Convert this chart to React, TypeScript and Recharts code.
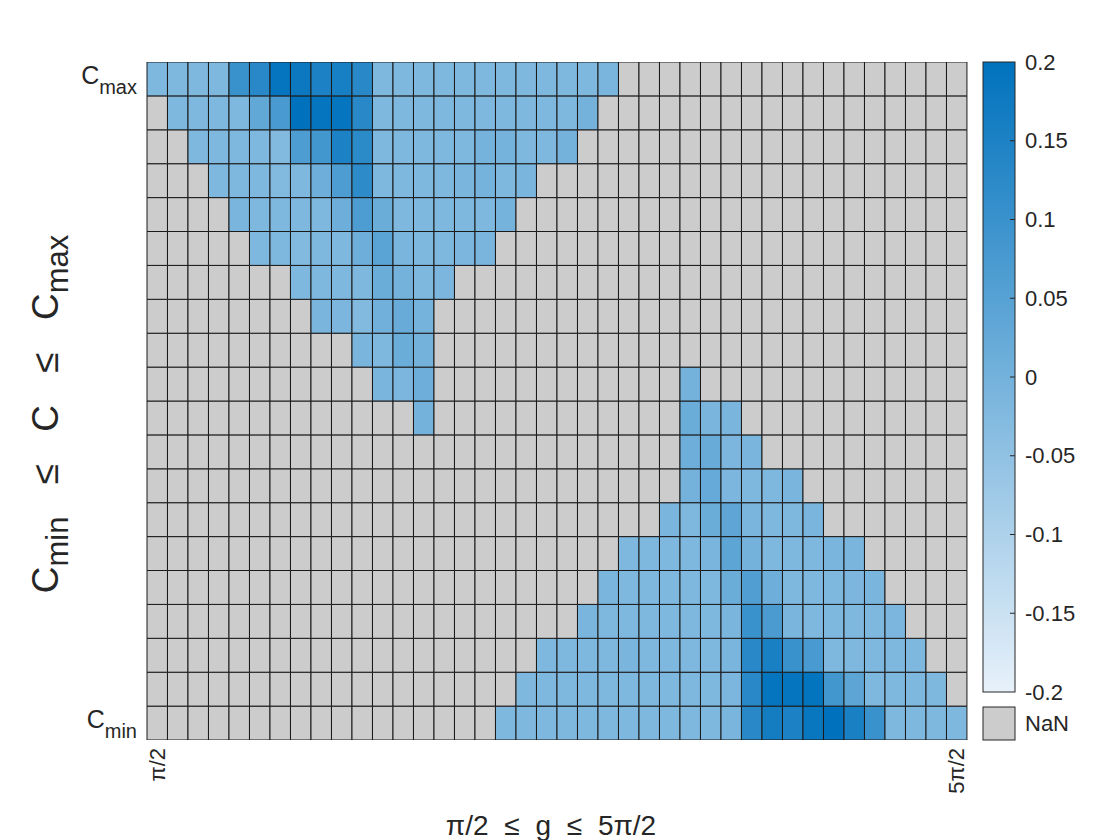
import React from 'react';
import { BarChart, Bar, XAxis, YAxis, Cell } from 'recharts';

const N = null;

// Column categories (g from π/2 to 5π/2), 40 columns
const COLUMNS = [1, 2, 3, 4, 5, 6, 7, 8, 9, 10, 11, 12, 13, 14, 15, 16, 17, 18, 19, 20,
  21, 22, 23, 24, 25, 26, 27, 28, 29, 30, 31, 32, 33, 34, 35, 36, 37, 38, 39, 40];
const X_TICK_LABELS: Record<number, string> = { 1: 'π/2', 40: '5π/2' };

// Row categories: Y tick positions (cell centres) and their labels
const Y_TICKS = [0.5, 19.5];
const Y_TICK_LABELS = [
  { base: 'C', sub: 'min' },
  { base: 'C', sub: 'max' },
];

// Colour bar
const C_MIN = -0.2;
const C_MAX = 0.2;
const CBAR_TICKS = [0.2, 0.15, 0.1, 0.05, 0, -0.05, -0.1, -0.15, -0.2];
const CBAR_LABELS = ['0.2', '0.15', '0.1', '0.05', '0', '-0.05', '-0.1', '-0.15', '-0.2'];

// Rows from top (C max) to bottom (C min); null = NaN
const R01 = [-0.02, -0.02, -0.02, -0.02, 0.10, 0.13, 0.19, 0.18, 0.15, 0.16, 0.13, -0.02, -0.02, -0.02, -0.02, -0.02, -0.02, -0.02, -0.02, -0.02, -0.02, -0.02, -0.01, N, N, N, N, N, N, N, N, N, N, N, N, N, N, N, N, N];
const R02 = [N, -0.02, -0.02, -0.02, -0.02, 0.03, 0.075, 0.2, 0.19, 0.19, 0.13, -0.02, -0.02, -0.02, -0.02, -0.02, -0.02, -0.02, -0.02, -0.02, -0.02, 0.0, N, N, N, N, N, N, N, N, N, N, N, N, N, N, N, N, N, N];
const R03 = [N, N, -0.02, -0.02, -0.02, -0.02, -0.025, 0.065, 0.085, 0.15, 0.125, -0.02, -0.02, -0.02, -0.02, -0.02, -0.005, -0.005, -0.02, -0.02, 0.0, N, N, N, N, N, N, N, N, N, N, N, N, N, N, N, N, N, N, N];
const R04 = [N, N, N, -0.02, -0.02, -0.02, -0.025, -0.02, 0.01, 0.065, 0.12, -0.02, -0.02, -0.02, -0.02, -0.01, -0.005, -0.02, -0.01, N, N, N, N, N, N, N, N, N, N, N, N, N, N, N, N, N, N, N, N, N];
const R05 = [N, N, N, N, -0.01, -0.02, -0.02, -0.02, -0.02, 0.01, 0.065, 0.015, -0.02, -0.02, -0.02, -0.02, -0.02, -0.005, N, N, N, N, N, N, N, N, N, N, N, N, N, N, N, N, N, N, N, N, N, N];
const R06 = [N, N, N, N, N, -0.02, -0.02, -0.025, -0.02, -0.02, 0.01, 0.045, -0.01, -0.02, -0.02, -0.015, -0.01, N, N, N, N, N, N, N, N, N, N, N, N, N, N, N, N, N, N, N, N, N, N, N];
const R07 = [N, N, N, N, N, N, N, -0.02, -0.02, -0.02, -0.02, 0.015, 0.0, -0.02, -0.015, N, N, N, N, N, N, N, N, N, N, N, N, N, N, N, N, N, N, N, N, N, N, N, N, N];
const R08 = [N, N, N, N, N, N, N, N, -0.01, -0.015, -0.025, 0.005, 0.02, -0.005, N, N, N, N, N, N, N, N, N, N, N, N, N, N, N, N, N, N, N, N, N, N, N, N, N, N];
const R09 = [N, N, N, N, N, N, N, N, N, N, -0.01, -0.02, 0.015, 0.0, N, N, N, N, N, N, N, N, N, N, N, N, N, N, N, N, N, N, N, N, N, N, N, N, N, N];
const R10 = [N, N, N, N, N, N, N, N, N, N, N, -0.01, -0.015, 0.01, N, N, N, N, N, N, N, N, N, N, N, N, 0.0, N, N, N, N, N, N, N, N, N, N, N, N, N];
const R11 = [N, N, N, N, N, N, N, N, N, N, N, N, N, 0.0, N, N, N, N, N, N, N, N, N, N, N, N, 0.015, -0.01, -0.01, N, N, N, N, N, N, N, N, N, N, N];
const R12 = [N, N, N, N, N, N, N, N, N, N, N, N, N, N, N, N, N, N, N, N, N, N, N, N, N, N, 0.01, 0.02, -0.015, -0.01, N, N, N, N, N, N, N, N, N, N];
const R13 = [N, N, N, N, N, N, N, N, N, N, N, N, N, N, N, N, N, N, N, N, N, N, N, N, N, N, 0.0, 0.025, -0.015, -0.02, -0.02, -0.01, N, N, N, N, N, N, N, N];
const R14 = [N, N, N, N, N, N, N, N, N, N, N, N, N, N, N, N, N, N, N, N, N, N, N, N, N, -0.01, -0.02, 0.015, 0.035, -0.01, -0.02, -0.02, -0.01, N, N, N, N, N, N, N];
const R15 = [N, N, N, N, N, N, N, N, N, N, N, N, N, N, N, N, N, N, N, N, N, N, N, -0.02, -0.02, -0.02, -0.02, -0.01, 0.04, 0.0, -0.02, -0.02, -0.02, -0.01, -0.01, N, N, N, N, N];
const R16 = [N, N, N, N, N, N, N, N, N, N, N, N, N, N, N, N, N, N, N, N, N, N, -0.01, -0.02, -0.02, -0.02, -0.02, -0.02, 0.015, 0.06, 0.01, -0.02, -0.02, -0.02, -0.015, -0.01, N, N, N, N];
const R17 = [N, N, N, N, N, N, N, N, N, N, N, N, N, N, N, N, N, N, N, N, N, -0.01, -0.02, -0.02, -0.02, -0.02, -0.02, -0.02, -0.01, 0.1, 0.07, -0.01, -0.02, -0.02, -0.02, -0.02, -0.015, N, N, N];
const R18 = [N, N, N, N, N, N, N, N, N, N, N, N, N, N, N, N, N, N, N, -0.02, -0.02, -0.02, -0.02, -0.01, -0.02, -0.02, -0.02, -0.02, -0.01, 0.13, 0.155, 0.1, 0.075, -0.02, -0.02, -0.02, -0.02, -0.02, N, N];
const R19 = [N, N, N, N, N, N, N, N, N, N, N, N, N, N, N, N, N, N, -0.02, -0.02, -0.02, -0.02, -0.02, -0.02, -0.02, -0.02, -0.02, -0.02, -0.015, 0.13, 0.19, 0.19, 0.195, 0.085, 0.04, -0.02, -0.02, -0.02, -0.02, N];
const R20 = [N, N, N, N, N, N, N, N, N, N, N, N, N, N, N, N, N, -0.02, -0.02, -0.02, -0.02, -0.02, -0.02, -0.02, -0.02, -0.02, -0.02, -0.02, -0.01, 0.13, 0.165, 0.15, 0.185, 0.2, 0.155, 0.1, -0.02, -0.02, -0.02, -0.02];

const ROWS = [R01, R02, R03, R04, R05, R06, R07, R08, R09, R10, R11, R12, R13, R14, R15, R16, R17, R18, R19, R20];

const LOW_RGB = [231, 241, 250];
const HIGH_RGB = [0, 114, 189];
const NAN_COLOR = '#cccccc';
const EDGE = '#1a1a1a';
const TEXT = '#262626';
const FONT = '"Liberation Sans", Arial, Helvetica, sans-serif';

function colorFor(v: number | null): string {
  if (v === null || v === undefined) return NAN_COLOR;
  let t = (v - C_MIN) / (C_MAX - C_MIN);
  t = Math.max(0, Math.min(1, t));
  const c = LOW_RGB.map((lo, i) => Math.round(lo + (HIGH_RGB[i] - lo) * t));
  return `rgb(${c[0]},${c[1]},${c[2]})`;
}

// Each column is a stack of 20 unit cells
const DATA = COLUMNS.map((col) => {
  const o: Record<string, number> = { col };
  ROWS.forEach((_, k) => {
    o[`r${k}`] = 1;
  });
  return o;
});

const XTick = (props: any) => {
  const { x, y, payload } = props;
  const label = X_TICK_LABELS[payload.value];
  if (!label) return null;
  return (
    <text
      transform={`translate(${x},${y}) rotate(-90)`}
      textAnchor="end"
      dy="0.35em"
      fontSize={22}
      fill={TEXT}
      fontFamily={FONT}
    >
      {label}
    </text>
  );
};

const YTick = (props: any) => {
  const { x, y, payload } = props;
  const idx = Y_TICKS.indexOf(payload.value);
  if (idx < 0) return null;
  const lab = Y_TICK_LABELS[idx];
  return (
    <text x={x - 2} y={y} textAnchor="end" fill={TEXT} fontFamily={FONT} fontSize={25}>
      <tspan dy="0.2em">{lab.base}</tspan>
      <tspan dy="0.48em" fontSize={20}>{lab.sub}</tspan>
    </text>
  );
};

const CBAR = { x: 983, y: 62, w: 32, h: 630 };
const NANBOX = { x: 983, y: 707, w: 32, h: 33 };

function cbarY(v: number) {
  return CBAR.y + ((C_MAX - v) / (C_MAX - C_MIN)) * CBAR.h;
}

const Overlay = () => (
  <svg
    width={1120}
    height={840}
    style={{ position: 'absolute', left: 0, top: 0, pointerEvents: 'none' }}
    fontFamily={FONT}
  >
    <defs>
      <linearGradient id="cbarGrad" x1="0" y1="0" x2="0" y2="1">
        <stop offset="0%" stopColor={colorFor(C_MAX)} />
        <stop offset="100%" stopColor={colorFor(C_MIN)} />
      </linearGradient>
    </defs>
    <rect x={CBAR.x} y={CBAR.y} width={CBAR.w} height={CBAR.h} fill="url(#cbarGrad)" stroke={TEXT} strokeWidth={1} />
    {CBAR_TICKS.map((t, i) => (
      <g key={t}>
        {i > 0 && i < CBAR_TICKS.length - 1 && (
          <line x1={CBAR.x + CBAR.w - 5} x2={CBAR.x + CBAR.w} y1={cbarY(t)} y2={cbarY(t)} stroke={TEXT} strokeWidth={1} />
        )}
        <text x={CBAR.x + CBAR.w + 10} y={cbarY(t)} dy="0.35em" fontSize={22} fill={TEXT}>
          {CBAR_LABELS[i]}
        </text>
      </g>
    ))}
    <rect x={NANBOX.x} y={NANBOX.y} width={NANBOX.w} height={NANBOX.h} fill={NAN_COLOR} stroke={TEXT} strokeWidth={1} />
    <text x={NANBOX.x + NANBOX.w + 10} y={NANBOX.y + NANBOX.h / 2} dy="0.35em" fontSize={22} fill={TEXT}>
      NaN
    </text>
    {/* axis labels */}
    <text x={551} y={835} textAnchor="middle" fontSize={28} fill={TEXT} wordSpacing={8}>
      π/2 ≤ g ≤ 5π/2
    </text>
    <text transform="translate(58,414) rotate(-90)" textAnchor="middle" fontSize={37} fill={TEXT} wordSpacing={22}>
      <tspan>C</tspan>
      <tspan fontSize={31} dy="0.33em">min</tspan>
      <tspan dy="-0.28em">{' ≤ C ≤ C'}</tspan>
      <tspan fontSize={31} dy="0.33em">max</tspan>
    </text>
  </svg>
);

export default function App() {
  return (
    <div style={{ position: 'absolute', left: 0, top: 0, width: 1120, height: 840, background: '#ffffff' }}>
      <BarChart
        width={1120}
        height={840}
        data={DATA}
        margin={{ top: 62, right: 153, bottom: 0, left: 0 }}
        barCategoryGap={0}
        barGap={0}
      >
        <XAxis
          dataKey="col"
          type="category"
          height={100}
          interval={0}
          tickLine={false}
          axisLine={false}
          tick={<XTick />}
        />
        <YAxis
          type="number"
          domain={[0, 20]}
          ticks={Y_TICKS}
          width={147}
          tickLine={false}
          axisLine={false}
          allowDataOverflow
          tick={<YTick />}
        />
        {ROWS.map((_, i) => {
          const k = ROWS.length - 1 - i; // bottom row first
          const row = ROWS[k];
          return (
            <Bar
              key={k}
              dataKey={`r${k}`}
              stackId="grid"
              barSize={20.45}
              stroke={EDGE}
              strokeWidth={1}
              isAnimationActive={false}
            >
              {COLUMNS.map((c, j) => (
                <Cell key={c} fill={colorFor(row[j])} />
              ))}
            </Bar>
          );
        })}
      </BarChart>
      <Overlay />
    </div>
  );
}
